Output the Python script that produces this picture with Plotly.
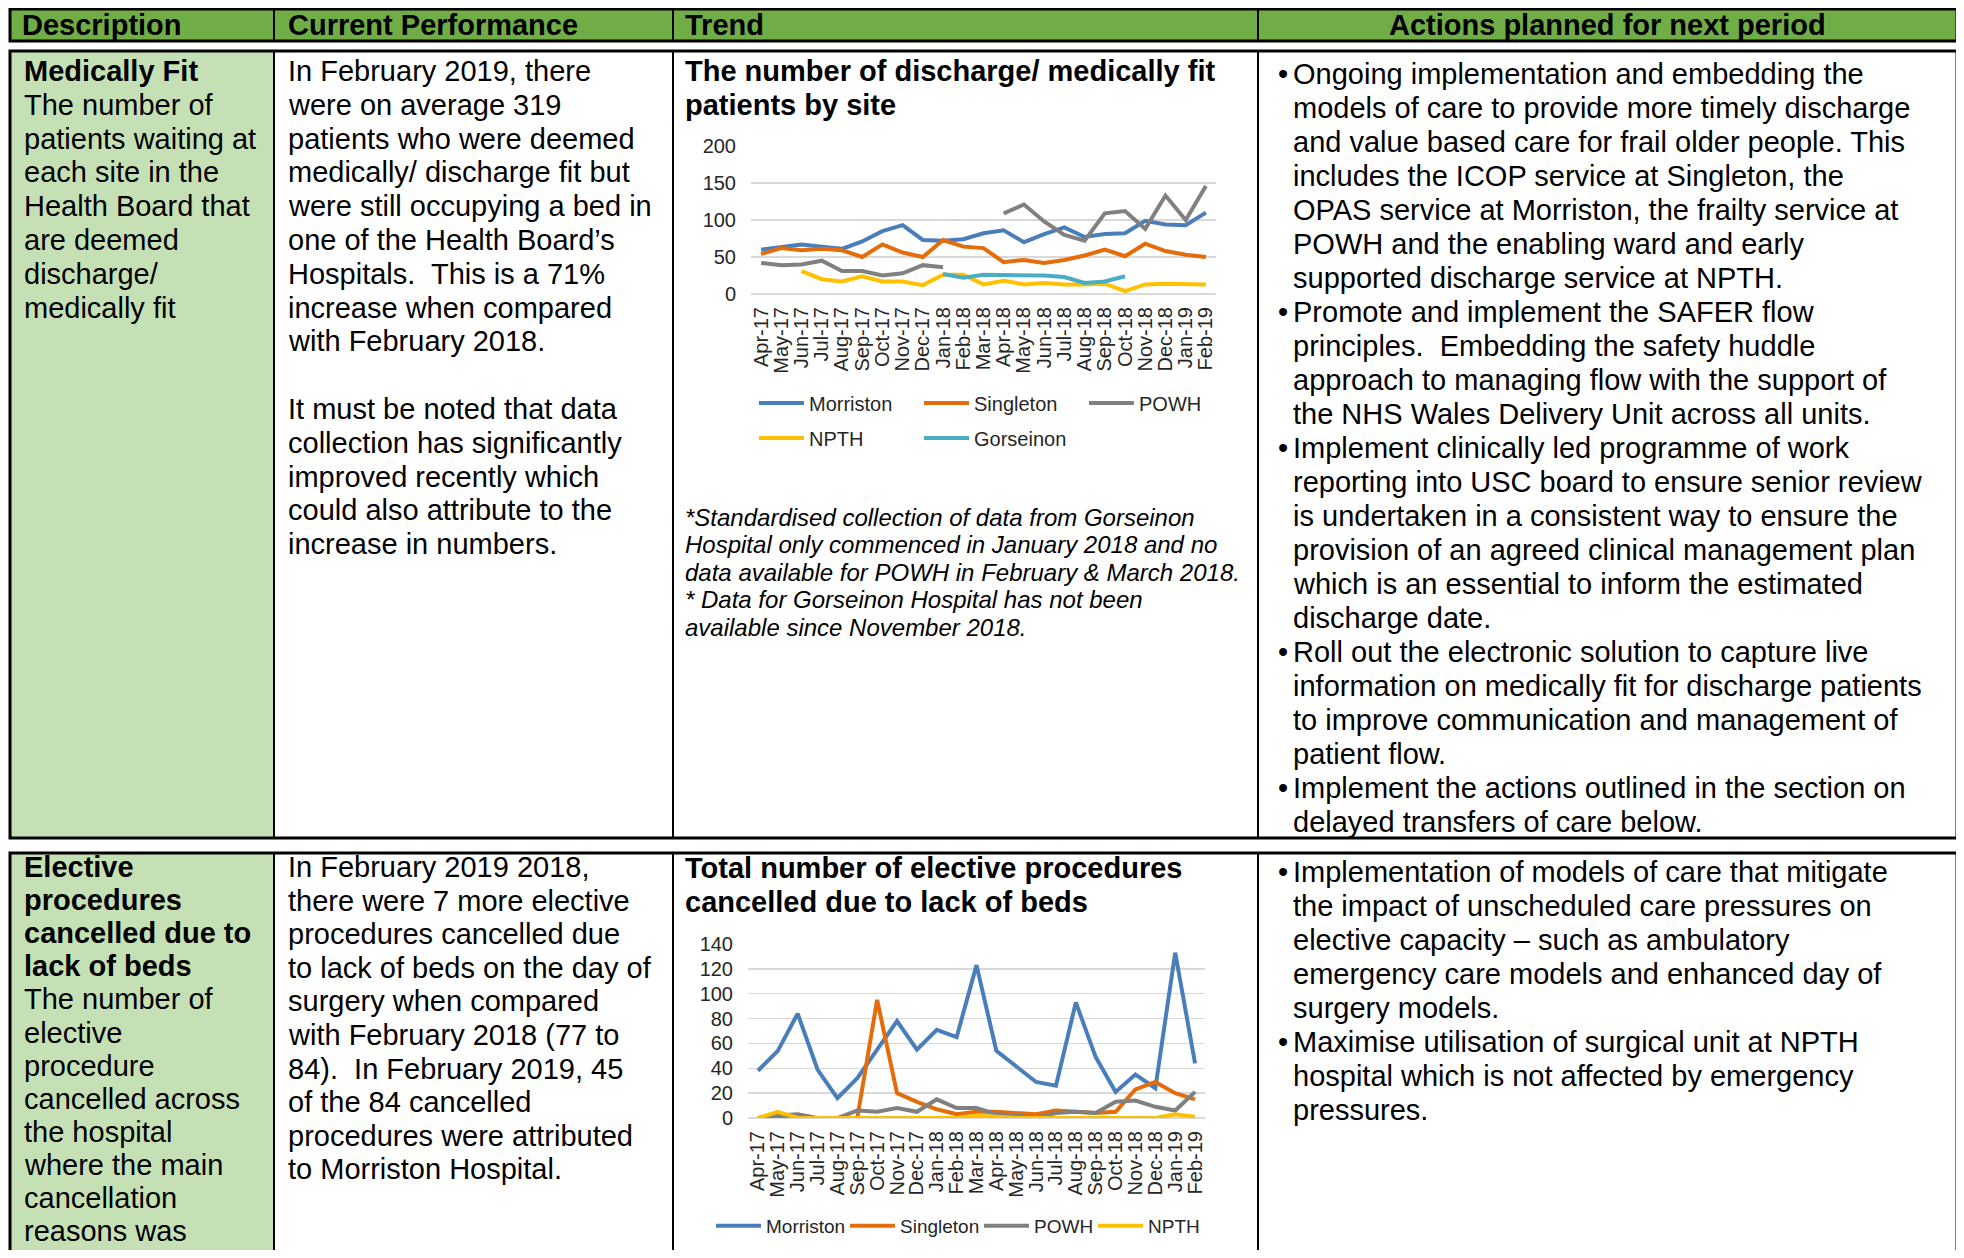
import plotly.graph_objects as go

# Page is 1964x1258; the browser body keeps its default 8px margin,
# so the figure itself is 1948x1242 and sits at (8, 8).
PAGE_W, PAGE_H = 1964, 1258
OFF = 8
W, H = PAGE_W - 2 * OFF, PAGE_H - 2 * OFF

# ---------------- data ----------------
months = ["Apr-17", "May-17", "Jun-17", "Jul-17", "Aug-17", "Sep-17", "Oct-17", "Nov-17",
          "Dec-17", "Jan-18", "Feb-18", "Mar-18", "Apr-18", "May-18", "Jun-18", "Jul-18",
          "Aug-18", "Sep-18", "Oct-18", "Nov-18", "Dec-18", "Jan-19", "Feb-19"]

# Chart 1: medically fit patients by site
mf_morriston = [60, 63, 67, 64, 61, 71, 85, 93, 73, 72, 74, 82, 86, 70, 81, 90, 77, 81, 82, 99, 94, 93, 110]
mf_singleton = [54, 62, 59, 61, 59, 50, 67, 56, 50, 73, 64, 62, 43, 46, 42, 46, 52, 60, 51, 68, 58, 53, 50]
mf_powh = [42, 39, 40, 45, 31, 31, 25, 28, 39, 36, None, None, 109, 121, 98, 80, 72, 109, 112, 88, 133, 100, 146]
mf_npth = [None, None, 31, 20, 17, 24, 17, 17, 12, 26, 26, 13, 18, 13, 15, 13, 13, 14, 4, 13, 14, 14, 13]
mf_gorseinon = [None, None, None, None, None, None, None, None, None, 27, 22, 26, 26, 25, 25, 23, 15, 17, 24,
                None, None, None, None]

# Chart 2: elective procedures cancelled due to lack of beds
ec_morriston = [38, 54, 84, 39, 16, 32, 55, 78, 55, 71, 65, 123, 54, 41, 29, 26, 93, 49, 21, 35, 24, 133, 44]
ec_singleton = [0, 0, 0, 0, 0, 0, 95, 20, 13, 7, 3, 5, 5, 4, 3, 6, 5, 4, 5, 23, 29, 20, 15]
ec_powh = [0, 2, 3, 0, 0, 6, 5, 8, 5, 15, 8, 8, 3, 2, 0, 4, 5, 4, 13, 14, 9, 6, 21]
ec_npth = [0, 5, 0, 0, 0, 0, 0, 0, 0, 0, 0, 2, 1, 0, 0, 0, 0, 0, 0, 0, 0, 3, 1]

colors = {"Morriston": "#4A7EBB", "Singleton": "#E46C0A", "POWH": "#808080",
          "NPTH": "#FFC000", "Gorseinon": "#4BACC6"}

headers = ["Description", "Current Performance", "Trend", "Actions planned for next period"]

desc1_bold = ["Medically Fit"]
desc1 = ["The number of", "patients waiting at", "each site in the", "Health Board that",
         "are deemed", "discharge/", "medically fit"]
perf1 = ["In February 2019, there", "were on average 319", "patients who were deemed",
         "medically/ discharge fit but", "were still occupying a bed in",
         "one of the Health Board\u2019s", "Hospitals.  This is a 71%", "increase when compared",
         "with February 2018.", "", "It must be noted that data", "collection has significantly",
         "improved recently which", "could also attribute to the", "increase in numbers."]
title1 = ["The number of discharge/ medically fit", "patients by site"]
notes1 = ["*Standardised collection of data from Gorseinon",
          "Hospital only commenced in January 2018 and no",
          "data available for POWH in February & March 2018.",
          "* Data for Gorseinon Hospital has not been",
          "available since November 2018."]
actions1 = [
    ["Ongoing implementation and embedding the", "models of care to provide more timely discharge",
     "and value based care for frail older people. This", "includes the ICOP service at Singleton, the",
     "OPAS service at Morriston, the frailty service at", "POWH and the enabling ward and early",
     "supported discharge service at NPTH."],
    ["Promote and implement the SAFER flow", "principles.  Embedding the safety huddle",
     "approach to managing flow with the support of", "the NHS Wales Delivery Unit across all units."],
    ["Implement clinically led programme of work", "reporting into USC board to ensure senior review",
     "is undertaken in a consistent way to ensure the", "provision of an agreed clinical management plan",
     "which is an essential to inform the estimated", "discharge date."],
    ["Roll out the electronic solution to capture live", "information on medically fit for discharge patients",
     "to improve communication and management of", "patient flow."],
    ["Implement the actions outlined in the section on", "delayed transfers of care below."],
]

desc2_bold = ["Elective", "procedures", "cancelled due to", "lack of beds"]
desc2 = ["The number of", "elective", "procedure", "cancelled across", "the hospital",
         "where the main", "cancellation", "reasons was"]
perf2 = ["In February 2019 2018,", "there were 7 more elective", "procedures cancelled due",
         "to lack of beds on the day of", "surgery when compared", "with February 2018 (77 to",
         "84).  In February 2019, 45", "of the 84 cancelled", "procedures were attributed",
         "to Morriston Hospital."]
title2 = ["Total number of elective procedures", "cancelled due to lack of beds"]
actions2 = [
    ["Implementation of models of care that mitigate", "the impact of unscheduled care pressures on",
     "elective capacity \u2013 such as ambulatory", "emergency care models and enhanced day of",
     "surgery models."],
    ["Maximise utilisation of surgical unit at NPTH", "hospital which is not affected by emergency",
     "pressures."],
]

# ---------------- helpers ----------------
FONT = "Arial, Liberation Sans, sans-serif"


def fx(x):
    return (x - OFF) / W


def fy(y):
    return 1 - (y - OFF) / H


annotations = []
shapes = []
TX = -3  # annotation text inset correction


def add_lines(lines, x, y0, dy, size=29, bold=False, italic=False, color="black"):
    for i, t in enumerate(lines):
        if not t:
            continue
        txt = t
        if bold:
            txt = "<b>" + txt + "</b>"
        if italic:
            txt = "<i>" + txt + "</i>"
        annotations.append(dict(
            x=fx(x + TX), y=fy(y0 + i * dy), xref="paper", yref="paper",
            xanchor="left", yanchor="middle", showarrow=False, text=txt,
            font=dict(family=FONT, size=size, color=color)))
    return y0 + len(lines) * dy


def add_bullets(groups, xb, xt, y0, dy, size=29):
    y = y0
    for g in groups:
        annotations.append(dict(
            x=fx(xb + TX), y=fy(y), xref="paper", yref="paper", xanchor="left", yanchor="middle",
            showarrow=False, text="\u2022", font=dict(family=FONT, size=size, color="black")))
        y = add_lines(g, xt, y, dy, size=size)


def rect(x0, y0, x1, y1, fill=None, line_color="black", lw=0, layer="below"):
    shapes.append(dict(type="rect", xref="paper", yref="paper",
                       x0=fx(x0), x1=fx(x1), y0=fy(y1), y1=fy(y0),
                       fillcolor=fill if fill else "rgba(0,0,0,0)",
                       line=dict(color=line_color, width=lw), layer=layer))


def vline(x, y0, y1, lw=2):
    shapes.append(dict(type="line", xref="paper", yref="paper",
                       x0=fx(x), x1=fx(x), y0=fy(y1), y1=fy(y0),
                       line=dict(color="black", width=lw), layer="below"))


# ---------------- table structure ----------------
L, R = 10, 1957
C1, C2, C3 = 274, 673, 1258
HDR0, HDR1 = 9, 41
R1T, R1B = 51, 838
R2T, R2B = 853, 1275

rect(L, HDR0, R, HDR1, fill="#70AD47", lw=3)
for c in (C1, C2, C3):
    vline(c, HDR0, HDR1, 2)

rect(L, R1T, C1, R1B, fill="#C5E0B4", lw=0)
rect(L, R2T, C1, R2B, fill="#C5E0B4", lw=0)
rect(L, R1T, R, R1B, lw=3)
rect(L, R2T, R, R2B, lw=3)
for c in (C1, C2, C3):
    vline(c, R1T, R1B, 2)
    vline(c, R2T, R2B, 2)

# header text
hdr_y = 25
for txt, x in zip(headers[:3], (23, 289, 686)):
    annotations.append(dict(x=fx(x + TX), y=fy(hdr_y), xref="paper", yref="paper", xanchor="left",
                            yanchor="middle", showarrow=False, text="<b>" + txt + "</b>",
                            font=dict(family=FONT, size=29, color="black")))
annotations.append(dict(x=fx((C3 + R) / 2), y=fy(hdr_y), xref="paper", yref="paper", xanchor="center",
                        yanchor="middle", showarrow=False, text="<b>" + headers[3] + "</b>",
                        font=dict(family=FONT, size=29, color="black")))

# row 1 text
DY = 33.8
yy = add_lines(desc1_bold, 25, 71, DY, bold=True)
add_lines(desc1, 25, yy, DY)
add_lines(perf1, 289, 71, DY)
add_lines(title1, 686, 71, DY, bold=True)
add_lines(notes1, 686, 517, 27.6, size=24, italic=True)
add_bullets(actions1, 1279, 1294, 74, 34.0)

# row 2 text (description column slightly tighter so its last line stays on the page)
DY2 = 33.1
yy = add_lines(desc2_bold, 25, 867, DY2, bold=True)
add_lines(desc2, 25, yy, DY2)
add_lines(perf2, 289, 867, 33.6)
add_lines(title2, 686, 868, 33.6, bold=True)
add_bullets(actions2, 1279, 1294, 872, 34.0)

# ---------------- charts ----------------
fig = go.Figure()

c1_series = [("Morriston", mf_morriston, "legend"), ("Singleton", mf_singleton, "legend"),
             ("POWH", mf_powh, "legend"), ("NPTH", mf_npth, "legend2"),
             ("Gorseinon", mf_gorseinon, "legend2")]
for name, vals, lg in c1_series:
    fig.add_trace(go.Scatter(x=months, y=vals, mode="lines", name=name, xaxis="x", yaxis="y",
                             line=dict(color=colors[name], width=4), connectgaps=False,
                             legend=lg, hoverinfo="skip"))

c2_series = [("Morriston", ec_morriston, 74), ("Singleton", ec_singleton, 74),
             ("POWH", ec_powh, 54), ("NPTH", ec_npth, 60)]
for name, vals, lw in c2_series:
    fig.add_trace(go.Scatter(x=months, y=vals, mode="lines", name=name, xaxis="x2", yaxis="y2",
                             line=dict(color=colors[name], width=4), legend="legend3",
                             legendwidth=lw, hoverinfo="skip"))

tickfont = dict(family=FONT, size=20, color="#262626")
xcommon = dict(type="category", categoryorder="array", categoryarray=months, range=[-0.5, 22.5],
               tickmode="array", tickvals=months, ticktext=months,
               tickangle=-90, showgrid=False, showline=False, zeroline=False, ticks="",
               tickfont=tickfont, ticklabelstandoff=8, fixedrange=True, automargin=False)
ycommon = dict(showgrid=True, gridcolor="#D9D9D9", gridwidth=1.5, zeroline=True,
               zerolinecolor="#D9D9D9", zerolinewidth=1.5, showline=False, ticks="",
               tickfont=tickfont, ticklabelstandoff=14, fixedrange=True, automargin=False)

legcommon = dict(orientation="h", xanchor="left", yanchor="middle", bgcolor="rgba(0,0,0,0)",
                 itemwidth=45, itemclick=False, itemdoubleclick=False)

fig.update_layout(
    width=W, height=H, margin=dict(l=0, r=0, t=0, b=0, autoexpand=False),
    paper_bgcolor="white", plot_bgcolor="rgba(0,0,0,0)",
    showlegend=True,
    xaxis=dict(domain=[fx(751), fx(1216)], anchor="y", **xcommon),
    yaxis=dict(domain=[fy(294), fy(146)], anchor="x", range=[0, 200], dtick=50, **ycommon),
    xaxis2=dict(domain=[fx(748), fx(1205)], anchor="y2", **xcommon),
    yaxis2=dict(domain=[fy(1118), fy(944)], anchor="x2", range=[0, 140], dtick=20, **ycommon),
    legend=dict(x=fx(754), y=fy(403), entrywidth=105,
                font=dict(family=FONT, size=20, color="#262626"), **legcommon),
    legend2=dict(x=fx(754), y=fy(438), entrywidth=105,
                 font=dict(family=FONT, size=20, color="#262626"), **legcommon),
    legend3=dict(x=fx(711), y=fy(1226),
                 font=dict(family=FONT, size=19, color="#262626"), **legcommon),
    annotations=annotations,
    shapes=shapes,
)

fig.write_html("out.html", config={"displayModeBar": False, "staticPlot": True})
